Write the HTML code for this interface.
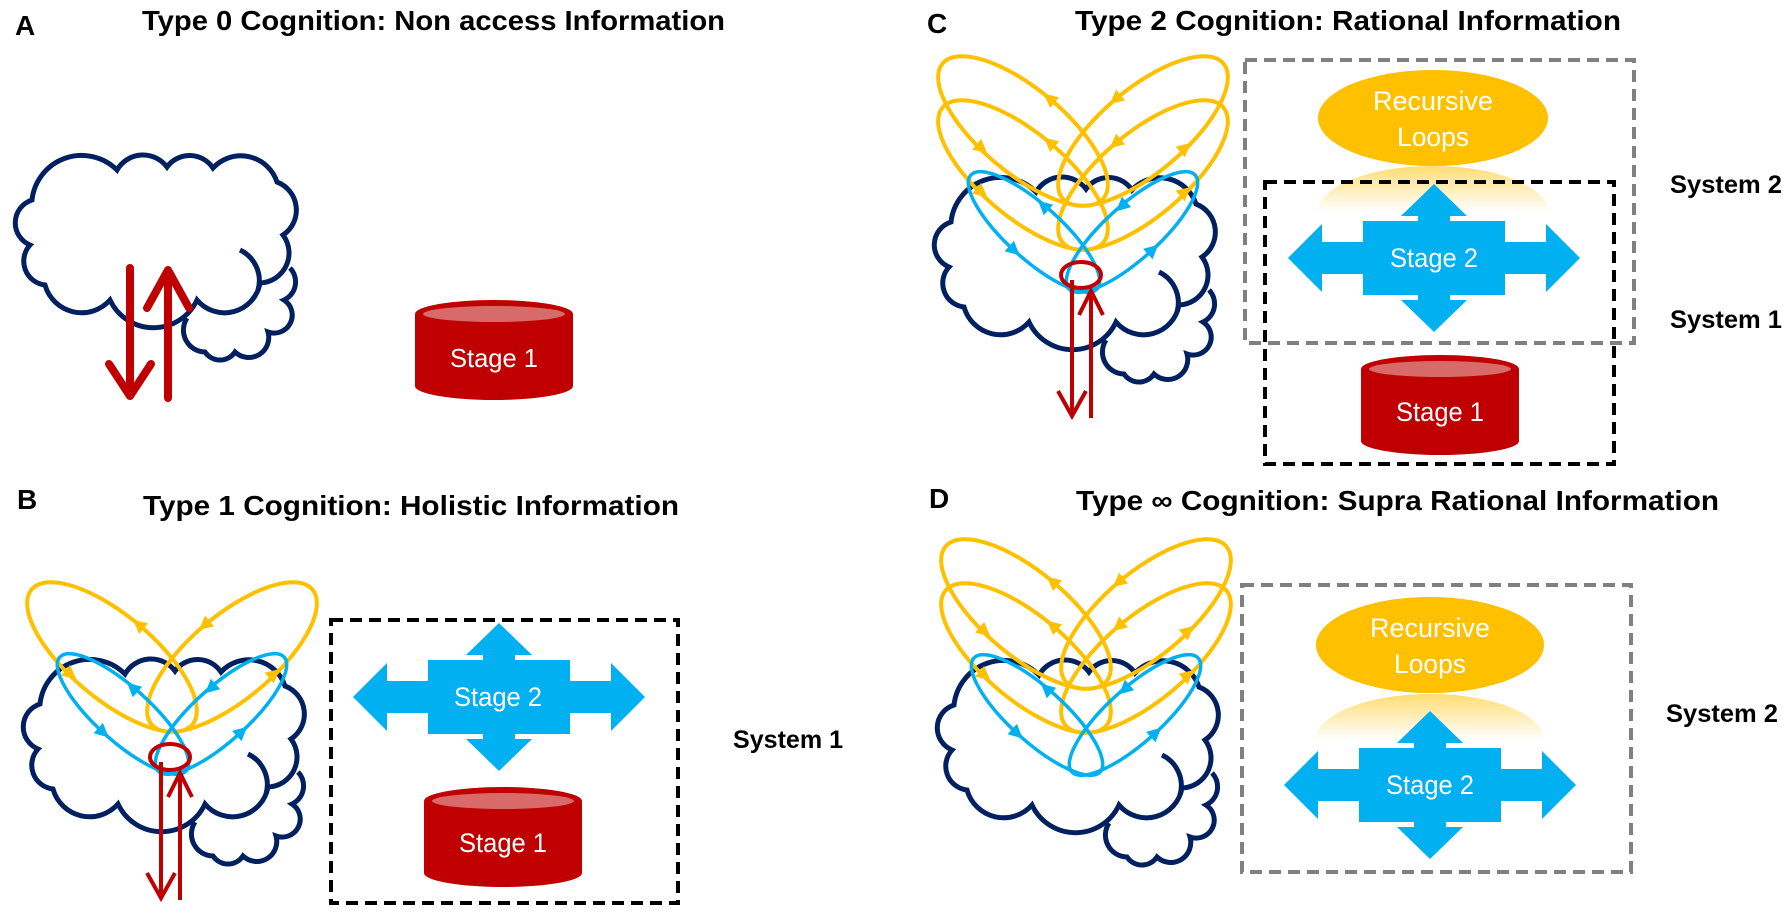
<!DOCTYPE html>
<html><head><meta charset="utf-8"><style>
html,body{margin:0;padding:0;background:#fff;}
svg{display:block;}
.t{font-family:"Liberation Sans",sans-serif;font-weight:bold;fill:#000;}
.w{font-family:"Liberation Sans",sans-serif;fill:#fff;}
</style></head><body>
<svg width="1784" height="920" viewBox="0 0 1784 920" xmlns="http://www.w3.org/2000/svg">
<defs>
  <g id="cloud" fill="#fff" stroke="#002060" stroke-width="5" stroke-linecap="butt">
    <path d="M187,318 A22 22 0 0 0 205,352 A18 18 0 0 0 235,352 A20 20 0 0 0 268,332 A18 18 0 0 0 284,300 A20 20 0 0 0 290,268"/>
    <path d="M45,285 A24 24 0 0 1 30,245 A24 24 0 0 1 32,200 A50 50 0 0 1 117,170 A30 30 0 0 1 167,167 A28 28 0 0 1 213,168 A38 38 0 0 1 277,182 A30 30 0 0 1 283,235 A30 30 0 0 1 260,283 A36 36 0 0 1 197,300 A48 48 0 0 1 110,300 A38 38 0 0 1 45,285 Z"/>
    <path d="M240,250 A34 34 0 0 1 258,290" fill="none"/>
  </g>
  <path id="tri" d="M8,0 L-6,-7 L-6,7 Z"/>
  <g id="yl" fill="none" stroke="#FFC000" stroke-width="4">
    <g transform="translate(112,657) rotate(40)">
      <ellipse rx="105" ry="42"/>
      <use href="#tri" fill="#FFC000" stroke="none" transform="translate(0,-42) rotate(180)"/>
      <use href="#tri" fill="#FFC000" stroke="none" transform="translate(-21,40)"/>
    </g>
    <g transform="translate(232,657) scale(-1,1) rotate(40)">
      <ellipse rx="105" ry="42"/>
      <use href="#tri" fill="#FFC000" stroke="none" transform="translate(0,-42)"/>
      <use href="#tri" fill="#FFC000" stroke="none" transform="translate(-21,40) rotate(180)"/>
    </g>
  </g>
  <g id="bl" fill="none" stroke="#00B0F0" stroke-width="3.5">
    <g transform="translate(123,714) rotate(42)">
      <ellipse rx="85" ry="27"/>
      <use href="#tri" fill="#00B0F0" stroke="none" transform="translate(-10,-26) rotate(180)"/>
      <use href="#tri" fill="#00B0F0" stroke="none" transform="translate(-3,27)"/>
    </g>
    <g transform="translate(221,714) scale(-1,1) rotate(42)">
      <ellipse rx="85" ry="27"/>
      <use href="#tri" fill="#00B0F0" stroke="none" transform="translate(-10,-26)"/>
      <use href="#tri" fill="#00B0F0" stroke="none" transform="translate(-3,27) rotate(180)"/>
    </g>
  </g>
  <g id="red" fill="none" stroke="#C00000" stroke-width="4">
    <ellipse cx="170" cy="757" rx="20" ry="13"/>
    <path d="M161,762 L161,897 M147,873 L161,898 L175,873"/>
    <path d="M180,900 L180,775 M168,797 L180,773 L192,797"/>
  </g>
  <polygon id="cross" fill="#00B0F0" points="0,-74 33,-42 16,-42 16,-37 71,-37 71,-16 112,-16 112,-34 146,0 112,34 112,16 71,16 71,37 16,37 16,42 33,42 0,74 -33,42 -16,42 -16,37 -71,37 -71,16 -112,16 -112,34 -146,0 -112,-34 -112,-16 -71,-16 -71,-37 -16,-37 -16,-42 -33,-42"/>
  <g id="cyl">
    <path d="M-79,14 A79 14 0 0 1 79,14 L79,86 A79 14 0 0 1 -79,86 Z" fill="#C00000"/>
    <ellipse cx="0" cy="14" rx="71" ry="8" fill="#D96A6A"/>
  </g>
  <linearGradient id="refl" x1="0" y1="0" x2="0" y2="1">
    <stop offset="0" stop-color="#FFC000" stop-opacity="0.55"/>
    <stop offset="1" stop-color="#FFC000" stop-opacity="0"/>
  </linearGradient>
</defs>

<text class="t" x="15" y="35" font-size="28">A</text>
<text class="t" x="142" y="30" font-size="28" textLength="583" lengthAdjust="spacingAndGlyphs">Type 0 Cognition: Non access Information</text>
<text class="t" x="17" y="509" font-size="28">B</text>
<text class="t" x="143" y="515" font-size="28" textLength="536" lengthAdjust="spacingAndGlyphs">Type 1 Cognition: Holistic Information</text>
<text class="t" x="927" y="33" font-size="28">C</text>
<text class="t" x="1075" y="30" font-size="28" textLength="546" lengthAdjust="spacingAndGlyphs">Type 2 Cognition: Rational Information</text>
<text class="t" x="929" y="508" font-size="28">D</text>
<text class="t" x="1076" y="510" font-size="28" textLength="643" lengthAdjust="spacingAndGlyphs">Type ∞ Cognition: Supra Rational Information</text>

<!-- Panel A -->
<use href="#cloud"/>
<g stroke="#C00000" stroke-width="8" fill="none" stroke-linecap="round" stroke-linejoin="round">
  <path d="M130,268 L130,394 M109,364 L130,396 L151,364"/>
  <path d="M168,398 L168,272 M147,308 L168,270 L189,308"/>
</g>
<use href="#cyl" transform="translate(494,300)"/>
<text class="w" x="494" y="367" font-size="26" text-anchor="middle" textLength="88" lengthAdjust="spacingAndGlyphs">Stage 1</text>

<!-- Panel B -->
<use href="#cloud" transform="translate(8,504)"/>
<use href="#yl"/>
<use href="#bl"/>
<use href="#red"/>
<rect x="331" y="620" width="347" height="283" fill="none" stroke="#000" stroke-width="4" stroke-dasharray="12,7"/>
<use href="#cross" transform="translate(499,697)"/>
<text class="w" x="498" y="706" font-size="27" text-anchor="middle" textLength="88" lengthAdjust="spacingAndGlyphs">Stage 2</text>
<use href="#cyl" transform="translate(503,787)"/>
<text class="w" x="503" y="852" font-size="27" text-anchor="middle" textLength="88" lengthAdjust="spacingAndGlyphs">Stage 1</text>
<text class="t" x="733" y="748" font-size="25" textLength="110" lengthAdjust="spacingAndGlyphs">System 1</text>

<!-- Panel C -->
<use href="#cloud" transform="translate(919,22)"/>
<use href="#yl" transform="translate(911,-526)"/>
<use href="#yl" transform="translate(911,-482)"/>
<use href="#bl" transform="translate(911,-482)"/>
<use href="#red" transform="translate(911,-482)"/>
<rect x="1245" y="60" width="389" height="283" fill="none" stroke="#808080" stroke-width="4" stroke-dasharray="12,7"/>
<ellipse cx="1433" cy="118" rx="115" ry="48" fill="#FFC000"/>
<text class="w" x="1433" y="110" font-size="27" text-anchor="middle" textLength="120" lengthAdjust="spacingAndGlyphs">Recursive</text>
<text class="w" x="1433" y="146" font-size="27" text-anchor="middle" textLength="72" lengthAdjust="spacingAndGlyphs">Loops</text>
<path d="M1318,212 A115 46 0 0 1 1548,212 Z" fill="url(#refl)"/>
<use href="#cross" transform="translate(1434,258)"/>
<text class="w" x="1434" y="267" font-size="27" text-anchor="middle" textLength="88" lengthAdjust="spacingAndGlyphs">Stage 2</text>
<rect x="1265" y="182" width="349" height="282" fill="none" stroke="#000" stroke-width="4" stroke-dasharray="12,7"/>
<use href="#cyl" transform="translate(1440,355)"/>
<text class="w" x="1440" y="421" font-size="27" text-anchor="middle" textLength="88" lengthAdjust="spacingAndGlyphs">Stage 1</text>
<text class="t" x="1670" y="193" font-size="25" textLength="112" lengthAdjust="spacingAndGlyphs">System 2</text>
<text class="t" x="1670" y="328" font-size="25" textLength="112" lengthAdjust="spacingAndGlyphs">System 1</text>

<!-- Panel D -->
<use href="#cloud" transform="translate(922,505)"/>
<use href="#yl" transform="translate(914,-43)"/>
<use href="#yl" transform="translate(914,1)"/>
<use href="#bl" transform="translate(914,1)"/>
<rect x="1242" y="585" width="389" height="287" fill="none" stroke="#808080" stroke-width="4" stroke-dasharray="12,7"/>
<ellipse cx="1430" cy="645" rx="114" ry="48" fill="#FFC000"/>
<text class="w" x="1430" y="637" font-size="27" text-anchor="middle" textLength="120" lengthAdjust="spacingAndGlyphs">Recursive</text>
<text class="w" x="1430" y="673" font-size="27" text-anchor="middle" textLength="72" lengthAdjust="spacingAndGlyphs">Loops</text>
<path d="M1316,740 A114 46 0 0 1 1544,740 Z" fill="url(#refl)"/>
<use href="#cross" transform="translate(1430,785)"/>
<text class="w" x="1430" y="794" font-size="27" text-anchor="middle" textLength="88" lengthAdjust="spacingAndGlyphs">Stage 2</text>
<text class="t" x="1666" y="722" font-size="25" textLength="112" lengthAdjust="spacingAndGlyphs">System 2</text>
</svg>
</body></html>
